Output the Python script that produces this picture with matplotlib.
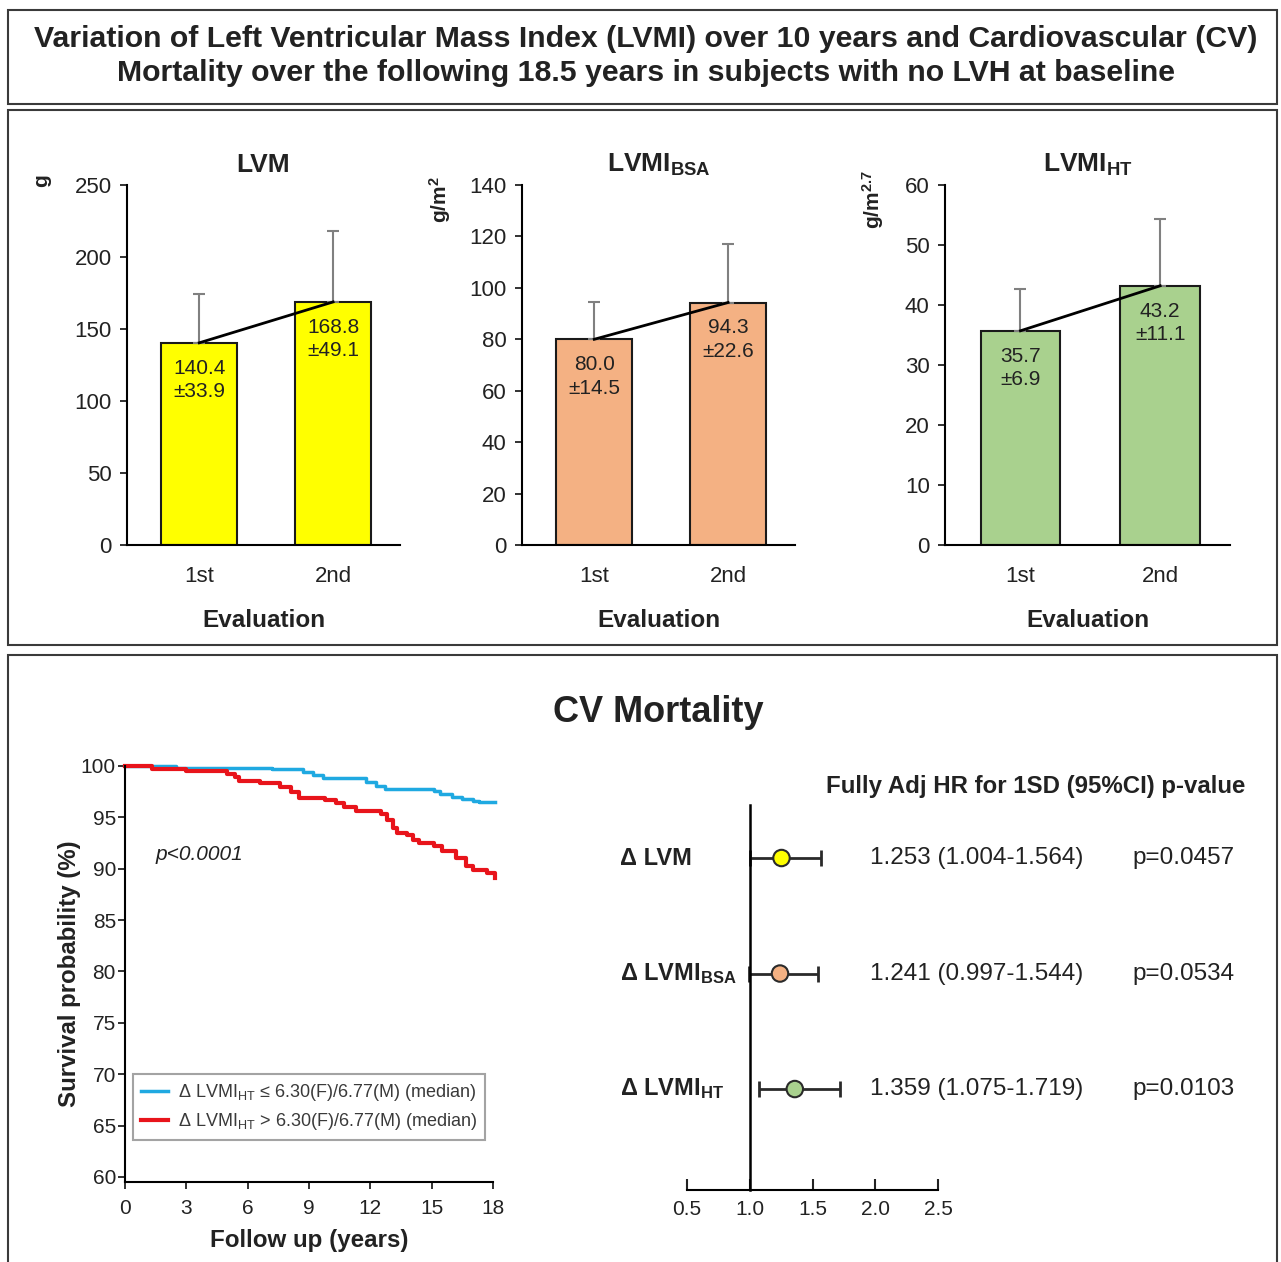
import numpy as np
import matplotlib
matplotlib.use("Agg")
import matplotlib.pyplot as plt
from matplotlib.patches import Rectangle
from matplotlib.transforms import blended_transform_factory

plt.rcParams['font.family'] = ['Liberation Sans', 'DejaVu Sans']
plt.rcParams['mathtext.fontset'] = 'custom'
plt.rcParams['mathtext.rm'] = 'Liberation Sans'
plt.rcParams['mathtext.it'] = 'Liberation Sans:italic'
plt.rcParams['mathtext.bf'] = 'Liberation Sans:bold'
plt.rcParams['axes.linewidth'] = 1.5

W, H = 1281, 1262
TXT = '#222222'

# LV mass at the two evaluations
panel_titles = ['LVM', r'LVMI$_\mathbf{BSA}$', r'LVMI$_\mathbf{HT}$']
panel_units = ['g', r'g/m$^\mathbf{2}$', r'g/m$^\mathbf{2.7}$']
evals = ['1st', '2nd']
means = [[140.4, 168.8], [80.0, 94.3], [35.7, 43.2]]
sds = [[33.9, 49.1], [14.5, 22.6], [6.9, 11.1]]
ymax = [250, 140, 60]
ystep = [50, 20, 10]
bar_colors = ['#ffff00', '#f4b183', '#a9d18e']

# Kaplan-Meier survival, CV mortality
km_labels = [r'Δ LVMI$_\mathrm{HT}$ ≤ 6.30(F)/6.77(M) (median)',
             r'Δ LVMI$_\mathrm{HT}$ > 6.30(F)/6.77(M) (median)']
low_t = [0, 2.5, 7.2, 8.7, 9.2, 9.7, 11.8, 12.3, 12.7, 15.1, 15.4, 16.0, 16.5,
         17.0, 17.3, 18.1]
low_s = [100, 99.85, 99.7, 99.4, 99.1, 98.8, 98.4, 98.1, 97.8, 97.6, 97.3, 97.0,
         96.8, 96.6, 96.5, 96.5]
high_t = [0, 1.3, 3.0, 5.0, 5.4, 5.6, 6.6, 7.6, 8.1, 8.5, 9.8, 10.3, 10.7, 11.3,
          12.5, 12.8, 13.1, 13.3, 13.8, 14.1, 14.4, 15.1, 15.5, 16.2, 16.7,
          17.0, 17.7, 18.1]
high_s = [100, 99.7, 99.5, 99.2, 98.9, 98.5, 98.3, 98.0, 97.5, 96.9, 96.7, 96.4,
          96.0, 95.6, 95.3, 94.7, 94.0, 93.5, 93.3, 92.8, 92.5, 92.2, 91.7, 91.0,
          90.3, 89.9, 89.6, 89.1]

# hazard ratios per 1SD increase
hr_labels = ['Δ LVM', r'Δ LVMI$_\mathbf{BSA}$', r'Δ LVMI$_\mathbf{HT}$']
hr = [1.253, 1.241, 1.359]
hr_lo = [1.004, 0.997, 1.075]
hr_hi = [1.564, 1.544, 1.719]
hr_p = ['p=0.0457', 'p=0.0534', 'p=0.0103']


def px_axes(fig, left, top, right, bottom):
    return fig.add_axes([left / W, 1 - bottom / H, (right - left) / W, (bottom - top) / H])


fig = plt.figure(figsize=(W / 100, H / 100), dpi=100)

# frames
for top, bot in [(10, 104), (110, 645), (655, 1275)]:
    fig.add_artist(Rectangle((8 / W, 1 - bot / H), (1277 - 8) / W, (bot - top) / H,
                             transform=fig.transFigure, fill=False,
                             ec='#3a3a3a', lw=1.5))

fig.text(646 / W, 1 - 56 / H,
         'Variation of Left Ventricular Mass Index (LVMI) over 10 years and Cardiovascular (CV)\n'
         'Mortality over the following 18.5 years in subjects with no LVH at baseline',
         ha='center', va='center', fontsize=21.8, fontweight='bold', color=TXT,
         linespacing=1.28)

# bar panels
bar_boxes = [(127, 400), (522, 795), (945, 1230)]
unit_x = [42, 440, 873]
for k, (l, r) in enumerate(bar_boxes):
    ax = px_axes(fig, l, 185, r, 545)
    x = np.arange(2)
    ax.bar(x, means[k], width=0.57, color=bar_colors[k], edgecolor='#1a1a1a',
           lw=1.5, zorder=2)
    ax.errorbar(x, means[k], yerr=[[0, 0], sds[k]], fmt='none', ecolor='#808080',
                elinewidth=1.5, capsize=4, capthick=1.5, zorder=3)
    ax.plot(x, means[k], color='black', lw=2, zorder=4)
    for i in range(2):
        ax.annotate(f'{means[k][i]:.1f}\n±{sds[k][i]:.1f}', (x[i], means[k][i]),
                    xytext=(0, -11.5), textcoords='offset points', ha='center',
                    va='top', fontsize=15, color=TXT, linespacing=1.3, zorder=5)
    ax.set_xlim(-0.54, 1.5)
    ax.set_ylim(0, ymax[k])
    ax.set_yticks(np.arange(0, ymax[k] + 1, ystep[k]))
    ax.set_xticks(x, evals)
    ax.tick_params(axis='y', length=5, width=1.3, pad=6, labelsize=16, colors=TXT)
    ax.tick_params(axis='x', length=0, pad=15, labelsize=16, colors=TXT)
    ax.spines[['top', 'right']].set_visible(False)
    ax.set_xlabel('Evaluation', fontsize=17.5, fontweight='bold', color=TXT,
                  labelpad=16)
    ax.text(0.5, 1.055, panel_titles[k], transform=ax.transAxes, ha='center',
            va='center', fontsize=19, fontweight='bold', color=TXT)
    fig.text(unit_x[k] / W, 1 - 200 / H if k else 1 - 181 / H, panel_units[k],
             rotation=90, ha='center', va='center', fontsize=15,
             fontweight='bold', color=TXT)

fig.text(658 / W, 1 - 713 / H, 'CV Mortality', ha='center', va='center',
         fontsize=26, fontweight='bold', color=TXT)

# survival curves
km = px_axes(fig, 125, 766, 493, 1182)
km.plot(low_t, low_s, drawstyle='steps-post', color='#1fa9e1', lw=2.5,
        label=km_labels[0], clip_on=False)
km.plot(high_t, high_s, drawstyle='steps-post', color='#e8141b', lw=3,
        label=km_labels[1], clip_on=False)
km.set_xlim(0, 18)
km.set_ylim(59.5, 100)
km.set_xticks(np.arange(0, 19, 3))
km.set_yticks(np.arange(60, 101, 5))
km.tick_params(length=5, width=1.3, labelsize=15, colors=TXT)
km.tick_params(axis='y', pad=1.5)
km.tick_params(axis='x', pad=7)
km.spines[['top', 'right']].set_visible(False)
km.set_xlabel('Follow up (years)', fontsize=17.4, fontweight='bold', color=TXT,
              labelpad=8)
km.set_ylabel('Survival probability (%)', fontsize=17.3, fontweight='bold',
              color=TXT, labelpad=0)
km.text(1.5, 91.4, 'p<0.0001', fontstyle='italic', fontsize=15, color=TXT,
        va='center')
leg = km.legend(loc='lower left', bbox_to_anchor=(0.022, 0.1), fontsize=13,
                frameon=True, fancybox=False, edgecolor='#8c8c8c',
                handlelength=1.5, handletextpad=0.55, borderpad=0.45,
                labelspacing=0.45, borderaxespad=0)
leg.get_frame().set_linewidth(1.5)
for t in leg.get_texts():
    t.set_color('#3a3a3a')

# forest plot
fp = px_axes(fig, 687, 805, 938, 1190)
rows = np.array([3, 2, 1])
fp.errorbar(hr, rows, xerr=[np.subtract(hr, hr_lo), np.subtract(hr_hi, hr)],
            fmt='none', ecolor='#2a2a2a', elinewidth=2, capsize=6, capthick=2,
            zorder=2)
fp.scatter(hr, rows, s=140, c=bar_colors, edgecolors='#2a2a2a', linewidths=1.5,
           zorder=3)
fp.set_xlim(0.5, 2.5)
fp.set_ylim(0.126, 3.459)
fp.set_xticks(np.arange(0.5, 2.6, 0.5))
fp.set_yticks([])
fp.spines[['top', 'right']].set_visible(False)
fp.spines['left'].set_position(('data', 1.0))
fp.spines['left'].set_linewidth(1.8)
fp.tick_params(axis='x', direction='in', length=8, width=1.5, pad=7,
               labelsize=15, colors=TXT)
tr = blended_transform_factory(fp.transAxes, fp.transData)
for i, y in enumerate(rows):
    fp.text(-0.267, y, hr_labels[i], transform=tr, ha='left', va='center',
            fontsize=17, fontweight='bold', color=TXT)
    fp.text(0.729, y, f'{hr[i]:.3f} ({hr_lo[i]:.3f}-{hr_hi[i]:.3f})',
            transform=tr, ha='left', va='center', fontsize=17.5, color=TXT)
    fp.text(1.773, y, hr_p[i], transform=tr, ha='left', va='center',
            fontsize=17.5, color=TXT)
fp.text(0.554, 1.049, 'Fully Adj HR for 1SD (95%CI) p-value',
        transform=fp.transAxes, ha='left', va='center', fontsize=17.3,
        fontweight='bold', color=TXT)

fig.savefig('out.png', dpi=100)
